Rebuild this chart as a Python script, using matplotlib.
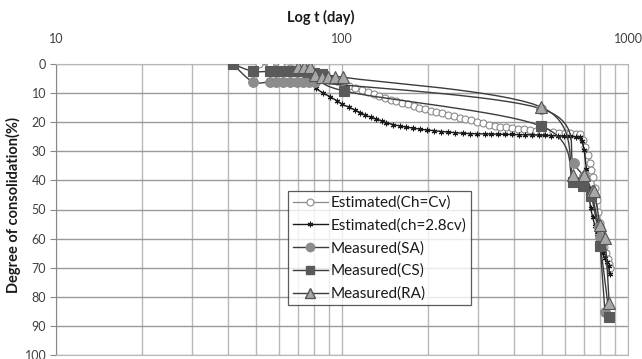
import numpy as np
import matplotlib
matplotlib.use("Agg")
import matplotlib.pyplot as plt

plt.rcParams['font.family'] = ['Lato', 'DejaVu Sans']

# elapsed time (day) and degree of consolidation (%)
est_cv_t = [51.4, 56, 61, 66, 71, 76, 81, 86, 91, 96, 101, 106, 111, 117, 123, 129,
            135, 141, 148, 155, 162, 170, 178, 186, 195, 204, 214, 224, 235, 246,
            258, 270, 283, 297, 311, 326, 342, 358, 375, 393, 412, 432, 453, 475,
            498, 522, 547, 573, 600, 628, 657, 680, 695, 708, 722, 735, 745, 755,
            765, 776, 786, 796, 806, 816, 827, 837, 848, 858, 865]
est_cv_u = [0.0, 0.5, 0.8, 1.3, 2.0, 2.8, 3.6, 4.4, 5.2, 6.0, 6.8, 7.6, 8.3, 9.1, 9.7, 10.4,
            11.0, 11.6, 12.2, 12.8, 13.3, 13.9, 14.5, 15.0, 15.5, 16.0, 16.5, 17.0, 17.5, 18.0,
            18.5, 18.9, 19.4, 19.9, 20.4, 20.8, 21.2, 21.5, 21.8, 22.0, 22.2, 22.4, 22.7, 22.9,
            23.1, 23.3, 23.5, 23.6, 23.7, 23.8, 23.9, 24.1, 26.0, 28.4, 31.3, 34.1, 36.5, 38.7,
            42.5, 46.7, 51.0, 54.5, 57.5, 60.5, 63.0, 65.0, 67.0, 68.7, 70.0]

est_28_t = [77, 81, 86, 91, 96, 100, 106, 111, 116, 120, 126, 132, 138, 143, 151, 159,
            168, 177, 188, 199, 210, 222, 235, 249, 265, 280, 297, 315, 333, 352, 372,
            393, 415, 438, 462, 487, 513, 540, 568, 597, 627, 658, 680, 692, 703, 715,
            728, 740, 752, 765, 778, 790, 803, 816, 829, 842, 855, 862]
est_28_u = [6.0, 8.4, 10.0, 11.3, 12.6, 13.8, 14.9, 15.8, 16.7, 17.5, 18.3, 18.9, 19.6, 20.2,
            20.8, 21.3, 21.7, 22.0, 22.4, 22.7, 22.9, 23.2, 23.4, 23.6, 23.8, 23.9, 24.0, 24.0,
            24.1, 24.1, 24.2, 24.2, 24.3, 24.3, 24.4, 24.4, 24.5, 24.6, 24.7, 24.8, 24.9, 25.0,
            25.0, 26.5, 29.6, 36.0, 44.0, 49.5, 52.5, 55.5, 58.5, 61.0, 63.0, 65.0, 66.8, 68.2,
            69.5, 72.0]

sa_t = [41.5, 48.7, 56, 58.9, 62.2, 65.7, 69.5, 73.3, 76.9, 80.3, 495, 646, 700, 748, 789, 795, 831]
sa_u = [0.0, 6.1, 6.1, 6.1, 6.1, 6.1, 6.1, 6.1, 6.1, 6.3, 15.3, 34.1, 38.5, 45.0, 55.9, 59.6, 85.3]

cs_t = [41.5, 48.7, 56, 60.4, 64.9, 68.6, 72, 76, 80, 85, 102, 496, 644, 698, 744, 800, 861]
cs_u = [0.0, 2.5, 2.5, 2.5, 2.5, 2.5, 2.5, 2.8, 3.0, 3.5, 9.3, 21.3, 40.5, 41.8, 45.4, 62.5, 87.0]

ra_t = [70, 73.8, 77.2, 80.6, 85.2, 89.7, 94.6, 101, 495, 644, 703, 747, 762, 798, 831, 859]
ra_u = [0.9, 0.9, 0.9, 3.8, 4.6, 4.6, 4.6, 4.6, 14.7, 38.1, 38.1, 43.5, 43.5, 55.3, 59.9, 82.2]


def smooth(t, u, steps=16):
    # Catmull-Rom curve in log-time so the measured lines bend like the spreadsheet ones
    x = np.log10(t)
    y = np.asarray(u, dtype=float)
    px = np.concatenate([[x[0]], x, [x[-1]]])
    py = np.concatenate([[y[0]], y, [y[-1]]])
    xs, ys = [], []
    s = np.linspace(0, 1, steps, endpoint=False)
    for i in range(1, len(px) - 2):
        for p, out in ((px, xs), (py, ys)):
            p0, p1, p2, p3 = p[i - 1], p[i], p[i + 1], p[i + 2]
            m1 = (p2 - p0) / 2
            m2 = (p3 - p1) / 2
            h00 = 2 * s**3 - 3 * s**2 + 1
            h10 = s**3 - 2 * s**2 + s
            h01 = -2 * s**3 + 3 * s**2
            h11 = s**3 - s**2
            out.extend(h00 * p1 + h10 * m1 + h01 * p2 + h11 * m2)
    xs.append(x[-1])
    ys.append(y[-1])
    return 10 ** np.array(xs), np.array(ys)


fig = plt.figure(figsize=(6.42, 3.59), dpi=100)
ax = fig.add_axes([56 / 642, 1 - 355 / 359, (628 - 56) / 642, (355 - 64) / 359])

ax.set_xscale('log')
ax.set_xlim(10, 1000)
ax.set_ylim(100, 0)

# estimated curves
ax.plot(est_cv_t, est_cv_u, color='#8a8a8a', lw=0.9, marker='o', ms=5,
        mfc='white', mec='#8a8a8a', mew=0.8, label='Estimated(Ch=Cv)', zorder=3)
ax.plot(est_28_t, est_28_u, color='#1a1a1a', lw=1.0, marker=(6, 2, 0), ms=4,
        mec='#1a1a1a', mew=0.8, label='Estimated(ch=2.8cv)', zorder=4)

# measured curves
for t, u, mk, fc, ms, lab in ((sa_t, sa_u, 'o', '#8c8c8c', 7, 'Measured(SA)'),
                              (cs_t, cs_u, 's', '#5a5a5a', 7, 'Measured(CS)'),
                              (ra_t, ra_u, '^', '#a8a8a8', 8.5, 'Measured(RA)')):
    sx, sy = smooth(t, u)
    ax.plot(sx, sy, color='#3c3c3c', lw=1.0, zorder=5)
    ax.plot(t, u, ls='none', marker=mk, ms=ms, mfc=fc,
            mec='#555555' if mk == '^' else fc, mew=0.8, zorder=6)
    ax.plot([], [], color='#3c3c3c', lw=1.0, marker=mk, ms=ms - 1, mfc=fc,
            mec='#555555' if mk == '^' else fc, label=lab)

ax.xaxis.tick_top()
ax.set_xticks([10, 100, 1000])
ax.set_xticklabels(['10', '100', '1000'])
ax.set_yticks(range(0, 101, 10))
ax.tick_params(axis='x', which='both', length=0, pad=14, labelsize=9, labelcolor='#404040')
ax.tick_params(axis='y', length=4, width=0.8, color='#888888', labelsize=9,
               labelcolor='#404040', pad=3)
ax.grid(True, which='both', axis='x', color='#b8b8b8', lw=1.0)
ax.grid(True, which='major', axis='y', color='#9a9a9a', lw=1.0)
ax.set_axisbelow(True)
for side in ('top', 'right', 'bottom'):
    ax.spines[side].set_color('#b8b8b8')
ax.spines['left'].set_color('#888888')

fig.text(321 / 642, 1 - 17 / 359, 'Log t (day)', ha='center', va='center',
         fontsize=10.5, fontweight='bold', color='#1a1a1a')
fig.text(13 / 642, 1 - 205 / 359, 'Degree of consolidation(%)', rotation=90,
         ha='center', va='center', fontsize=10.5, fontweight='bold', color='#1a1a1a')

leg = ax.legend(loc='upper left', bbox_to_anchor=((288 - 56) / 572, 1 - (191 - 64) / 291),
                frameon=True, fancybox=False, fontsize=11, handlelength=2.3,
                handletextpad=0.2, borderpad=0.3, labelspacing=0.55, borderaxespad=0)
leg.get_frame().set_edgecolor('#333333')
leg.get_frame().set_linewidth(0.9)
for txt in leg.get_texts():
    txt.set_color('#1a1a1a')

fig.savefig('out.png', dpi=100)
